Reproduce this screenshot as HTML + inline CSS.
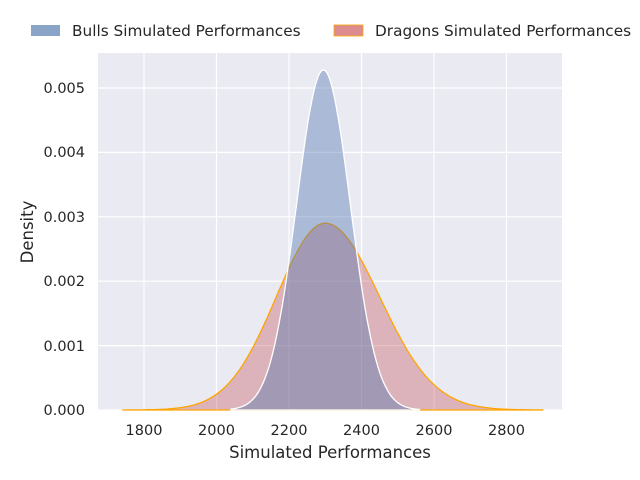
<!DOCTYPE html>
<html><head><style>body{margin:0;background:#fff}svg{display:block}</style></head>
<body>
<svg id="s" width="640" height="480" xmlns="http://www.w3.org/2000/svg" font-family="DejaVu Sans, Liberation Sans, sans-serif" fill="#262626">
<rect x="98" y="53" width="464" height="357" fill="#eaeaf2"/>
<g stroke="#fff" stroke-width="1.2">
<line x1="144" y1="53" x2="144" y2="410"/><line x1="216.5" y1="53" x2="216.5" y2="410"/>
<line x1="289" y1="53" x2="289" y2="410"/><line x1="361.5" y1="53" x2="361.5" y2="410"/>
<line x1="434" y1="53" x2="434" y2="410"/><line x1="506.5" y1="53" x2="506.5" y2="410"/>
<line x1="98" y1="410" x2="562" y2="410"/><line x1="98" y1="345.6" x2="562" y2="345.6"/>
<line x1="98" y1="281.2" x2="562" y2="281.2"/><line x1="98" y1="216.8" x2="562" y2="216.8"/>
<line x1="98" y1="152.4" x2="562" y2="152.4"/><line x1="98" y1="88" x2="562" y2="88"/>
</g>
<path id="d" fill="#c44e52" fill-opacity="0.35" stroke="#ffa500" stroke-width="1.3"/>
<path id="b" fill="#4c72b0" fill-opacity="0.4" stroke="#fff" stroke-width="1.3"/>
<g font-size="14.5" text-anchor="middle">
<text x="144" y="435">1800</text><text x="216.5" y="435">2000</text><text x="289" y="435">2200</text>
<text x="361.5" y="435">2400</text><text x="434" y="435">2600</text><text x="506.5" y="435">2800</text>
</g>
<g font-size="14.5" text-anchor="end">
<text x="85" y="415">0.000</text><text x="85" y="351">0.001</text><text x="85" y="286">0.002</text>
<text x="85" y="222">0.003</text><text x="85" y="157">0.004</text><text x="85" y="93">0.005</text>
</g>
<text x="330" y="458" font-size="16.5" text-anchor="middle">Simulated Performances</text>
<text x="33" y="232" font-size="16.5" text-anchor="middle" transform="rotate(-90 33 232)">Density</text>
<rect x="31" y="25" width="29" height="11" fill="#8aa4c8"/>
<text x="72" y="36" font-size="15.3">Bulls Simulated Performances</text>
<rect x="334" y="25" width="29" height="11" fill="#dc8b8f" stroke="#ffa500" stroke-width="0.8"/>
<text x="375" y="36" font-size="15.3">Dragons Simulated Performances</text>
</svg>
<script>
function X(v){return 144+(v-1800)*0.3625}
function Y(d){return 410-d*64400}
function path(f,a,b){var s="M"+X(a)+","+Y(0);for(var v=a;v<=b;v+=5){s+=" L"+X(v).toFixed(1)+","+Y(f(v)).toFixed(1)}return s+" L"+X(b)+","+Y(0)+"Z"}
document.getElementById('b').setAttribute('d',path(function(v){var z=(v-2295)/74;return 0.00528*Math.exp(-z*z/2)},2040,2560));
document.getElementById('d').setAttribute('d',path(function(v){var sd=v<2300?135:150;var z=(v-2300)/sd;return 0.0029*Math.exp(-z*z/2)},1740,2900));
</script>
</body></html>
